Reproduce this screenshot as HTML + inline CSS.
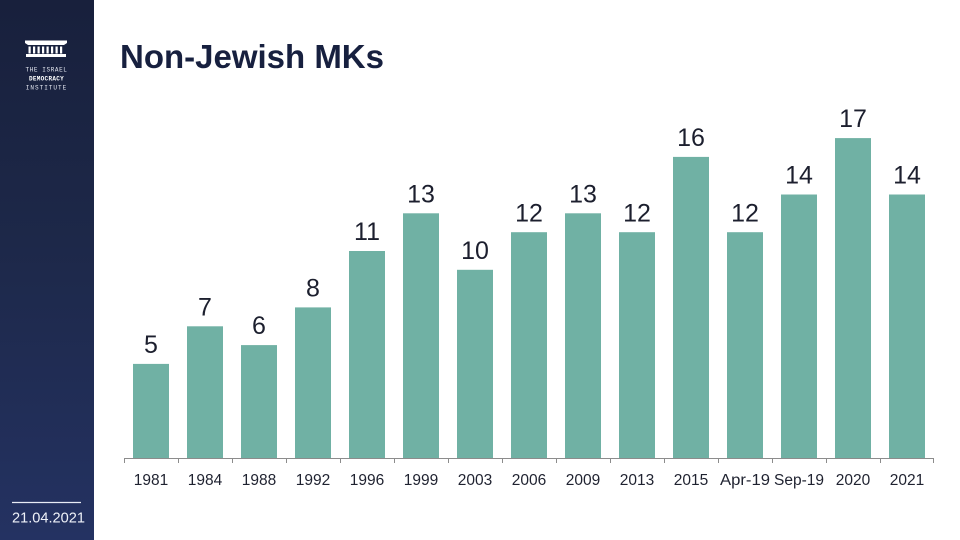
<!DOCTYPE html>
<html><head><meta charset="utf-8">
<style>
html,body{margin:0;padding:0;}
body{width:960px;height:540px;position:relative;overflow:hidden;background:#fff;font-family:"Liberation Sans",sans-serif;}
.side{position:absolute;left:0;top:0;width:94px;height:540px;background:linear-gradient(180deg,#18203c 0%,#1d2849 45%,#243262 100%);}
svg{position:absolute;left:0;top:0;}
</style></head>
<body>
<div class="side"></div>
<svg width="960" height="540" viewBox="0 0 960 540" xmlns="http://www.w3.org/2000/svg">
  <!-- logo -->
  <g fill="#ffffff">
    <path d="M25 40.5 L67 40.5 L67 43 L64 45 L28 45 L25 43 Z"/>
    <rect x="28.5" y="46.5" width="2.2" height="7"/>
    <rect x="33" y="46.5" width="2.2" height="7"/>
    <rect x="37.5" y="46.5" width="2.2" height="7"/>
    <rect x="42" y="46.5" width="2.2" height="7"/>
    <rect x="46.5" y="46.5" width="2.2" height="7"/>
    <rect x="51" y="46.5" width="2.2" height="7"/>
    <rect x="55.5" y="46.5" width="2.2" height="7"/>
    <rect x="60" y="46.5" width="2.2" height="7"/>
    <rect x="26" y="54" width="40" height="3"/>
  </g>
  <g fill="#e6e9f2" font-family="'Liberation Mono',monospace" font-size="6" text-anchor="middle">
    <text x="46.5" y="71.5" letter-spacing="0.6">THE ISRAEL</text>
    <text x="46.5" y="80.5" font-weight="bold" letter-spacing="0.3" fill="#ffffff">DEMOCRACY</text>
    <text x="46.5" y="89.5" letter-spacing="1">INSTITUTE</text>
  </g>
  <!-- date -->
  <line x1="12" y1="502.5" x2="81" y2="502.5" stroke="#e8ecf5" stroke-width="1.2"/>
  <text x="12" y="522.5" fill="#eef1f8" font-size="15" font-family="'Liberation Sans',sans-serif" textLength="73" lengthAdjust="spacingAndGlyphs">21.04.2021</text>
  <!-- title -->
  <text x="120" y="68" fill="#17203f" font-size="33" font-weight="bold" font-family="'Liberation Sans',sans-serif" textLength="264" lengthAdjust="spacingAndGlyphs">Non-Jewish MKs</text>

  <!-- bars -->
  <g fill="#70b1a4">
    <rect x="133" y="363.9" width="36" height="94.1"/>
    <rect x="187" y="326.3" width="36" height="131.7"/>
    <rect x="241" y="345.1" width="36" height="112.9"/>
    <rect x="295" y="307.4" width="36" height="150.6"/>
    <rect x="349" y="251" width="36" height="207"/>
    <rect x="403" y="213.3" width="36" height="244.7"/>
    <rect x="457" y="269.8" width="36" height="188.2"/>
    <rect x="511" y="232.2" width="36" height="225.8"/>
    <rect x="565" y="213.3" width="36" height="244.7"/>
    <rect x="619" y="232.2" width="36" height="225.8"/>
    <rect x="673" y="156.9" width="36" height="301.1"/>
    <rect x="727" y="232.2" width="36" height="225.8"/>
    <rect x="781" y="194.5" width="36" height="263.5"/>
    <rect x="835" y="138.1" width="36" height="319.9"/>
    <rect x="889" y="194.5" width="36" height="263.5"/>
  </g>
  <!-- axis -->
  <g stroke="#8c8c8c" stroke-width="1">
    <line x1="124" y1="458.5" x2="934" y2="458.5"/>
    <line x1="124.5" y1="458" x2="124.5" y2="463"/>
    <line x1="178.5" y1="458" x2="178.5" y2="463"/>
    <line x1="232.5" y1="458" x2="232.5" y2="463"/>
    <line x1="286.5" y1="458" x2="286.5" y2="463"/>
    <line x1="340.5" y1="458" x2="340.5" y2="463"/>
    <line x1="394.5" y1="458" x2="394.5" y2="463"/>
    <line x1="448.5" y1="458" x2="448.5" y2="463"/>
    <line x1="502.5" y1="458" x2="502.5" y2="463"/>
    <line x1="556.5" y1="458" x2="556.5" y2="463"/>
    <line x1="610.5" y1="458" x2="610.5" y2="463"/>
    <line x1="664.5" y1="458" x2="664.5" y2="463"/>
    <line x1="718.5" y1="458" x2="718.5" y2="463"/>
    <line x1="772.5" y1="458" x2="772.5" y2="463"/>
    <line x1="826.5" y1="458" x2="826.5" y2="463"/>
    <line x1="880.5" y1="458" x2="880.5" y2="463"/>
    <line x1="933.5" y1="458" x2="933.5" y2="463"/>
  </g>
  <!-- category labels -->
  <g fill="#1f2230" font-size="15.5" font-family="'Liberation Sans',sans-serif" text-anchor="middle">
    <text x="151" y="485">1981</text>
    <text x="205" y="485">1984</text>
    <text x="259" y="485">1988</text>
    <text x="313" y="485">1992</text>
    <text x="367" y="485">1996</text>
    <text x="421" y="485">1999</text>
    <text x="475" y="485">2003</text>
    <text x="529" y="485">2006</text>
    <text x="583" y="485">2009</text>
    <text x="637" y="485">2013</text>
    <text x="691" y="485">2015</text>
    <text x="745" y="485" textLength="50" lengthAdjust="spacingAndGlyphs">Apr-19</text>
    <text x="799" y="485" textLength="50" lengthAdjust="spacingAndGlyphs">Sep-19</text>
    <text x="853" y="485">2020</text>
    <text x="907" y="485">2021</text>
  </g>
  <!-- value labels -->
  <g fill="#1c1f2e" font-size="25" font-family="'Liberation Sans',sans-serif" text-anchor="middle">
    <text x="151" y="353">5</text>
    <text x="205" y="315.4">7</text>
    <text x="259" y="334.2">6</text>
    <text x="313" y="296.5">8</text>
    <text x="367" y="240.1">11</text>
    <text x="421" y="202.4">13</text>
    <text x="475" y="258.9">10</text>
    <text x="529" y="221.3">12</text>
    <text x="583" y="202.4">13</text>
    <text x="637" y="221.3">12</text>
    <text x="691" y="146">16</text>
    <text x="745" y="221.3">12</text>
    <text x="799" y="183.6">14</text>
    <text x="853" y="127.2">17</text>
    <text x="907" y="183.6">14</text>
  </g>
</svg>
</body></html>
